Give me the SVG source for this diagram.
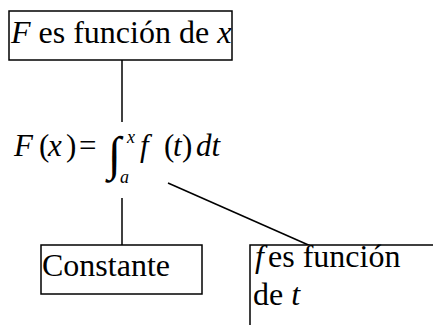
<svg xmlns="http://www.w3.org/2000/svg" width="433" height="325" viewBox="0 0 433 325">
<rect width="433" height="325" fill="#fff"/>
<g id="connectors" stroke="#000" stroke-width="1.5" fill="none">
<line x1="122" y1="60" x2="122" y2="122"/>
<line x1="122" y1="198" x2="122" y2="245"/>
<line x1="168" y1="183" x2="313" y2="247"/>
</g>
<g id="node-F">
<rect x="9" y="11" width="223" height="49" fill="#fff" stroke="#000" stroke-width="1.5"/>
<text x="11" y="43" font-family="Liberation Serif" font-size="32"><tspan font-style="italic">F</tspan> es función de <tspan font-style="italic">x</tspan></text>
</g>
<g id="node-formula">
<text x="14" y="156" font-family="Liberation Serif" font-size="31"><tspan font-style="italic">F</tspan><tspan x="39">(</tspan><tspan font-style="italic" x="48">x</tspan><tspan x="66">)</tspan><tspan x="79">=</tspan></text>
<text x="108" y="170" font-family="Liberation Serif" font-size="48">∫</text>
<text x="127" y="143" font-family="Liberation Serif" font-size="18" font-style="italic">x</text>
<text x="120" y="183" font-family="Liberation Serif" font-size="18" font-style="italic">a</text>
<text x="140" y="156" font-family="Liberation Serif" font-size="31"><tspan font-style="italic">f</tspan><tspan x="164">(</tspan><tspan font-style="italic" x="173">t</tspan><tspan x="182">)</tspan><tspan font-style="italic" x="196">dt</tspan></text>
</g>
<g id="node-constante">
<rect x="41" y="245" width="161" height="49" fill="#fff" stroke="#000" stroke-width="1.5"/>
<text x="42" y="276" font-family="Liberation Serif" font-size="32">Constante</text>
</g>
<g id="node-ft">
<rect x="250" y="245" width="200" height="100" fill="#fff" stroke="#000" stroke-width="1.5"/>
<text x="255" y="267" font-family="Liberation Serif" font-size="32"><tspan font-style="italic">f</tspan><tspan x="268">es función</tspan></text>
<text x="253" y="305" font-family="Liberation Serif" font-size="32">de <tspan font-style="italic">t</tspan></text>
</g>
</svg>
